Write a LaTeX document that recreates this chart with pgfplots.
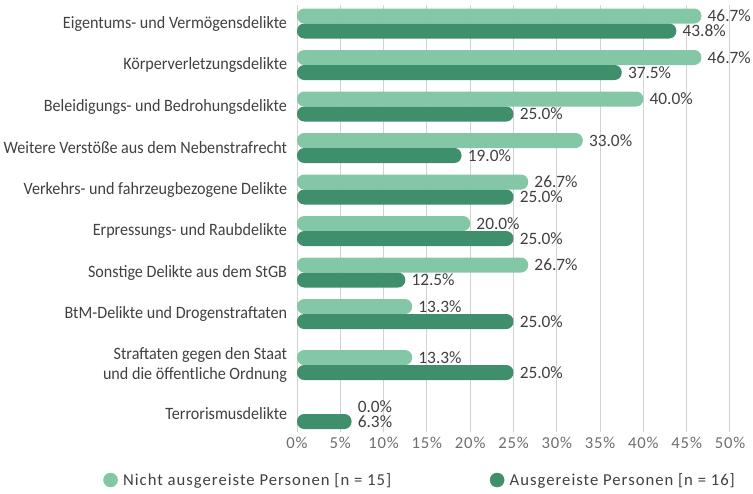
\documentclass[border=0pt]{standalone}
\usepackage{pgfplots}
\pgfplotsset{compat=1.18}
\usepackage{fontspec}
\setmainfont{Carlito}
\newfontfamily\catfont{Carlito}[FakeStretch=0.93]
\newfontfamily\spacedfont{Carlito}[LetterSpace=5]
\newfontfamily\legfont{Carlito}[LetterSpace=6]
\definecolor{lightg}{RGB}{132,199,166}
\definecolor{darkg}{RGB}{64,143,108}
\definecolor{txt}{RGB}{64,64,64}
\definecolor{ticktxt}{RGB}{110,110,110}
\definecolor{gridc}{RGB}{210,210,210}
\begin{document}
\begin{tikzpicture}
\begin{axis}[
  at={(222.75pt,-3.75pt)}, anchor=north west,
  scale only axis, width=324.75pt, height=320.25pt,
  xmin=0, xmax=50, ymin=5, ymax=432, y dir=reverse,
  axis line style={draw=none},
  tick style={draw=none},
  xmajorgrids, major grid style={gridc, line width=0.75pt},
  xtick={0,5,...,50},
  xticklabel={\pgfmathprintnumber{\tick}\%},
  /pgf/number format/assume math mode=true,
  xticklabel style={font=\spacedfont\fontsize{12.5}{14}\selectfont, text=ticktxt},
  ytick={23.5,65,106.5,148,189.5,231,272.5,314,365,414},
  yticklabels={Eigentums- und Vermögensdelikte, Körperverletzungsdelikte, Beleidigungs- und Bedrohungsdelikte, Weitere Verstöße aus dem Nebenstrafrecht, Verkehrs- und fahrzeugbezogene Delikte, Erpressungs- und Raubdelikte, Sonstige Delikte aus dem StGB, BtM-Delikte und Drogenstraftaten, {Straftaten gegen den Staat\\und die öffentliche Ordnung}, Terrorismusdelikte},
  yticklabel style={font=\catfont\fontsize{13}{15}\selectfont, text=txt, align=right, inner sep=0pt, xshift=-3pt},
  xbar, bar width=15, bar shift=0pt,
  point meta=x,
  nodes near coords={\pgfmathprintnumber[fixed,fixed zerofill,precision=1]{\pgfplotspointmeta}\%},
  nodes near coords align=horizontal,
  every node near coord/.append style={font=\fontsize{13}{14}\selectfont, text=txt, inner xsep=4.5pt},
  clip=false,
  legend style={at={(axis cs:-22.4,480)}, anchor=west, draw=none, fill=none, inner sep=0pt,
    font=\legfont\fontsize{12.5}{14}\selectfont, text=txt, legend columns=2,
    /tikz/every odd column/.append style={column sep=2pt},
    /tikz/every even column/.append style={column sep=72pt}},
  legend cell align=left,
]
\addplot[forget plot, fill=lightg, draw=none, rounded corners=5.4pt] coordinates {(46.7,16) (46.7,57.5) (40.0,99) (33.0,140.5) (26.7,182) (20.0,223.5) (26.7,265) (13.3,306.5) (13.3,357.5)};
\addplot[forget plot, fill=none, draw=none, nodes near coords={0.0\%}, every node near coord/.append style={xshift=40.9pt}] coordinates {(0.0,406.5)};
\addplot[forget plot, fill=darkg, draw=none, rounded corners=5.4pt] coordinates {(43.8,31) (37.5,72.5) (25.0,114) (19.0,155.5) (25.0,197) (25.0,238.5) (12.5,280) (25.0,321.5) (25.0,372.5) (6.3,421.5)};
\addlegendimage{legend image code/.code={\fill[lightg] (0pt,0pt) circle (5.25pt);}}
\addlegendentry{Nicht ausgereiste Personen [n = 15]}
\addlegendimage{legend image code/.code={\fill[darkg] (0pt,0pt) circle (5.25pt);}}
\addlegendentry{Ausgereiste Personen [n = 16]}
\end{axis}
\pgfresetboundingbox
\useasboundingbox (0pt,0pt) rectangle (564.75pt,-369.75pt);
\end{tikzpicture}
\end{document}
